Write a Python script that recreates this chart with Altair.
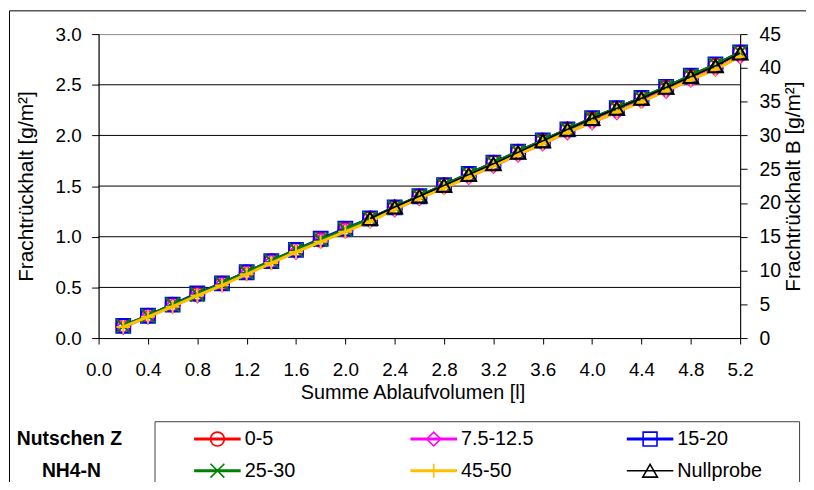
import altair as alt
import pandas as pd

# ---------------- data ----------------
x_vals = [0.2, 0.4, 0.6, 0.8, 1.0, 1.2, 1.4, 1.6, 1.8, 2.0, 2.2, 2.4, 2.6,
          2.8, 3.0, 3.2, 3.4, 3.6, 3.8, 4.0, 4.2, 4.4, 4.6, 4.8, 5.0, 5.2]
y_0_5 = [0.12, 0.22, 0.33, 0.43, 0.54, 0.65, 0.76, 0.87, 0.97, 1.07, 1.18, 1.29, 1.40,
         1.51, 1.62, 1.73, 1.84, 1.95, 2.06, 2.16, 2.27, 2.37, 2.47, 2.58, 2.69, 2.82]
y_7_5_12_5 = [0.11, 0.21, 0.32, 0.42, 0.53, 0.64, 0.75, 0.85, 0.96, 1.06, 1.16, 1.27, 1.38,
              1.49, 1.59, 1.70, 1.81, 1.92, 2.03, 2.13, 2.23, 2.34, 2.44, 2.55, 2.66, 2.78]
y_15_20 = [0.12, 0.22, 0.33, 0.44, 0.54, 0.65, 0.76, 0.87, 0.98, 1.08, 1.18, 1.29, 1.40,
           1.51, 1.62, 1.73, 1.84, 1.95, 2.06, 2.17, 2.27, 2.37, 2.48, 2.59, 2.70, 2.82]
y_25_30 = [0.12, 0.22, 0.33, 0.43, 0.54, 0.65, 0.76, 0.87, 0.97, 1.07, 1.18, 1.29, 1.40,
           1.51, 1.62, 1.73, 1.84, 1.95, 2.06, 2.17, 2.27, 2.37, 2.48, 2.59, 2.70, 2.82]
y_45_50 = [0.11, 0.21, 0.31, 0.42, 0.52, 0.63, 0.74, 0.85, 0.95, 1.05, 1.15, 1.27, 1.38,
           1.48, 1.59, 1.70, 1.81, 1.92, 2.03, 2.13, 2.23, 2.33, 2.44, 2.55, 2.65, 2.78]
# Nullprobe on the secondary axis (Frachtrückhalt B)
x_null = [2.2, 2.4, 2.6, 2.8, 3.0, 3.2, 3.4, 3.6, 3.8, 4.0, 4.2, 4.4, 4.6, 4.8, 5.0, 5.2]
y_null = [17.7, 19.4, 21.0, 22.6, 24.2, 25.8, 27.5, 29.2, 30.9, 32.5, 34.0, 35.5, 37.1,
          38.7, 40.3, 42.2]

series_names = ["0-5", "7.5-12.5", "15-20", "25-30", "45-50", "Nullprobe"]
series_values = [y_0_5, y_7_5_12_5, y_15_20, y_25_30, y_45_50]
series_colors = ["#FF0000", "#FF00FF", "#0000FF", "#008000", "#FFC000", "#000000"]
X_PATH = "M-1,-1L1,1M-1,1L1,-1"
PLUS_PATH = "M-1,0L1,0M0,-1L0,1"
series_shapes = ["circle", "diamond", "square", X_PATH, PLUS_PATH, "triangle-up"]

x_ticks = [0.0, 0.4, 0.8, 1.2, 1.6, 2.0, 2.4, 2.8, 3.2, 3.6, 4.0, 4.4, 4.8, 5.2]
left_ticks = [0.0, 0.5, 1.0, 1.5, 2.0, 2.5, 3.0]
right_ticks = [0, 5, 10, 15, 20, 25, 30, 35, 40, 45]
grid_vals = [0.5, 1.0, 1.5, 2.0, 2.5]
legend_title_lines = ["Nutschen Z", "NH4-N"]

# ---------------- layout ----------------
W, H = 648, 307
FONT = "Liberation Sans"
MARK_SIZE = 196
TRI_SIZE = 220
LINE_W = 3
NULL_LINE_W = 1.5

x_scale = alt.Scale(domain=[0, 5.2], nice=False, zero=False)
x_axis = alt.Axis(values=x_ticks, format=".1f", title="Summe Ablaufvolumen [l]",
                  grid=False, tickSize=6, labelPadding=32, labelBaseline="alphabetic",
                  labelFlush=False, labelOverlap=False, titleX=317, titleY=61,
                  titleBaseline="alphabetic", titleAlign="center")
yl_scale = alt.Scale(domain=[0, 3], nice=False, zero=True)
yl_axis = alt.Axis(values=left_ticks, format=".1f", title="Frachtrückhalt [g/m²]",
                   orient="left", grid=False, tickSize=7, labelPadding=10.5,
                   titleX=-66.5, titleY=H / 2, titleAngle=270, titleFontSize=21,
                   titleBaseline="alphabetic", titleAlign="center")
yr_scale = alt.Scale(domain=[0, 45], nice=False, zero=True)
yr_axis = alt.Axis(values=right_ticks, format="d", title="Frachtrückhalt B [g/m²]",
                   orient="right", grid=False, tickSize=7, labelPadding=12,
                   labelFontSize=19.5,
                   titleX=60, titleY=H / 2, titleAngle=270, titleFontSize=21,
                   titleBaseline="alphabetic", titleAlign="center")

left_layers = []

# horizontal gridlines
grid_df = pd.DataFrame({"g": grid_vals})
left_layers.append(
    alt.Chart(grid_df).mark_rule(color="#000000", strokeWidth=1).encode(
        y=alt.Y("g:Q", scale=yl_scale, axis=yl_axis)
    )
)

# data series on left axis
for name, vals, col, shp in zip(series_names[:5], series_values, series_colors[:5],
                                series_shapes[:5]):
    df = pd.DataFrame({"x": x_vals, "y": vals})
    base = alt.Chart(df).encode(
        x=alt.X("x:Q", scale=x_scale, axis=x_axis),
        y=alt.Y("y:Q", scale=yl_scale, axis=yl_axis),
    )
    left_layers.append(base.mark_line(color=col, strokeWidth=LINE_W))
    left_layers.append(base.mark_point(shape=shp, color=col, filled=False,
                                       size=MARK_SIZE, strokeWidth=2, opacity=1))

# ---------------- manual legend (below the plot) ----------------
LEG_X0 = 96.5     # start of first legend line, relative to plot origin
LEG_DX = 218.5
LEG_Y0 = 409
LEG_DY = 32
LINE_LEN = 47
rows = []
for i, name in enumerate(series_names):
    c, r = i % 3, i // 3
    lx = LEG_X0 + c * LEG_DX
    rows.append({
        "name": name, "color": series_colors[i], "shape": series_shapes[i],
        "lx": lx, "lx2": lx + LINE_LEN, "mx": lx + LINE_LEN / 2, "tx": lx + 51,
        "ly": LEG_Y0 + r * LEG_DY,
        "sw": NULL_LINE_W if name == "Nullprobe" else LINE_W,
        "ms": TRI_SIZE if name == "Nullprobe" else MARK_SIZE,
    })
leg_df = pd.DataFrame(rows)
left_layers.append(
    alt.Chart(leg_df).mark_rule().encode(
        x=alt.X("lx:Q", scale=None), x2="lx2:Q", y=alt.Y("ly:Q", scale=None),
        color=alt.Color("color:N", scale=None),
        strokeWidth=alt.StrokeWidth("sw:Q", scale=None),
    )
)
left_layers.append(
    alt.Chart(leg_df).mark_point(filled=False, strokeWidth=1.6, opacity=1).encode(
        x=alt.X("mx:Q", scale=None), y=alt.Y("ly:Q", scale=None),
        color=alt.Color("color:N", scale=None),
        shape=alt.Shape("shape:N", scale=None),
        size=alt.Size("ms:Q", scale=None),
    )
)
left_layers.append(
    alt.Chart(leg_df).mark_text(align="left", baseline="middle", fontSize=20,
                                font=FONT, color="#000000").encode(
        x=alt.X("tx:Q", scale=None), y=alt.Y("ly:Q", scale=None), text="name:N"
    )
)
lt_df = pd.DataFrame({"t": legend_title_lines, "tx": [-29.5, -27.5],
                      "ty": [LEG_Y0, LEG_Y0 + LEG_DY]})
left_layers.append(
    alt.Chart(lt_df).mark_text(align="center", baseline="middle", fontSize=19.5,
                               fontWeight="bold", font=FONT, color="#000000").encode(
        x=alt.X("tx:Q", scale=None), y=alt.Y("ty:Q", scale=None), text="t:N"
    )
)

# legend box (top, left, right edges) and outer chart frame
one = pd.DataFrame({"a": [0]})
BOX_L, BOX_R, BOX_T = 57, 708, 391.5
frame_specs = [
    dict(x=alt.value(BOX_L), x2=alt.value(BOX_R), y=alt.value(BOX_T), c="#404040"),
    dict(x=alt.value(BOX_L), y=alt.value(BOX_T), y2=alt.value(480), c="#404040"),
    dict(x=alt.value(BOX_R), y=alt.value(BOX_T), y2=alt.value(480), c="#404040"),
    dict(x=alt.value(-90), x2=alt.value(760), y=alt.value(-23.5), c="#000000"),
    dict(x=alt.value(-90), y=alt.value(-23.5), y2=alt.value(480), c="#000000"),
]
for spec in frame_specs:
    col = spec.pop("c")
    left_layers.append(alt.Chart(one).mark_rule(color=col, strokeWidth=1).encode(**spec))

left_group = alt.layer(*left_layers)

# ---------------- Nullprobe on the right axis ----------------
null_df = pd.DataFrame({"x": x_null, "y": y_null})
null_base = alt.Chart(null_df).encode(
    x=alt.X("x:Q", scale=x_scale, axis=x_axis),
    y=alt.Y("y:Q", scale=yr_scale, axis=yr_axis),
)
right_group = alt.layer(
    null_base.mark_line(color="#000000", strokeWidth=NULL_LINE_W),
    null_base.mark_point(shape="triangle-up", color="#000000", filled=False,
                         size=TRI_SIZE, strokeWidth=2, opacity=1),
)

chart = alt.layer(left_group, right_group).resolve_scale(y="independent").properties(
    width=W, height=H,
    padding={"left": 91.5, "top": 24, "right": 66.5, "bottom": 143},
    autosize=alt.AutoSizeParams(type="none"),
).configure(font=FONT).configure_view(
    stroke="#888888", strokeWidth=1
).configure_axis(
    domainColor="#000000", tickColor="#000000", labelColor="#000000",
    titleColor="#000000", labelFont=FONT, titleFont=FONT, labelFontSize=19,
    titleFontSize=20, titleFontWeight="normal", domainWidth=1, tickWidth=1,
)

chart.save("out.html", embed_options={"renderer": "svg", "actions": False})
